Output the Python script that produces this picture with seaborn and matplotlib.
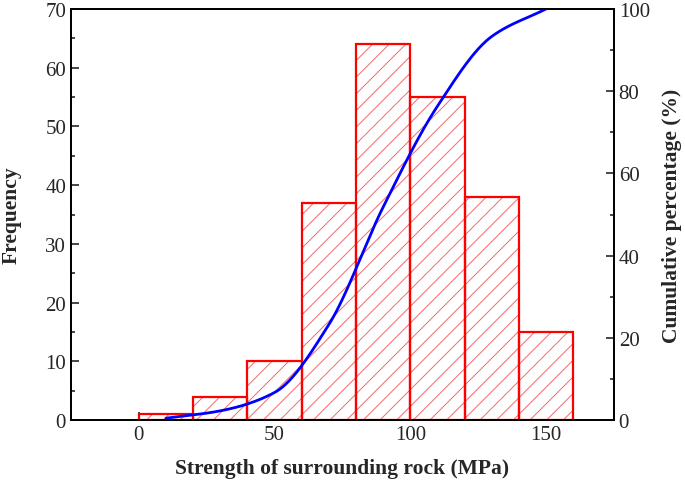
import numpy as np
import pandas as pd
import matplotlib
matplotlib.use("Agg")
import matplotlib.pyplot as plt
from matplotlib.ticker import MultipleLocator
import seaborn as sns

# Binned strength data (MPa)
bin_edges = [0, 20, 40, 60, 80, 100, 120, 140, 160]
bin_centers = [10, 30, 50, 70, 90, 110, 130, 150]
counts = [1, 4, 10, 37, 64, 55, 38, 15]

sns.set_style("ticks")
plt.rcParams['font.family'] = ['Liberation Serif', 'DejaVu Serif']
plt.rcParams['hatch.linewidth'] = 0.7
plt.rcParams['xtick.direction'] = 'in'
plt.rcParams['ytick.direction'] = 'in'

df = pd.DataFrame({"strength": bin_centers, "count": counts})
cum_pct = np.cumsum(counts) / np.sum(counts) * 100


def pchip(x, y, xs):
    # monotone cubic through the points, for a smooth rendering of the curve
    x = np.asarray(x, float)
    y = np.asarray(y, float)
    h = np.diff(x)
    d = np.diff(y) / h
    m = np.zeros_like(y)
    for k in range(1, len(x) - 1):
        if d[k - 1] * d[k] > 0:
            w1 = 2 * h[k] + h[k - 1]
            w2 = h[k] + 2 * h[k - 1]
            m[k] = (w1 + w2) / (w1 / d[k - 1] + w2 / d[k])
    m[0] = d[0]
    m[-1] = d[-1]
    idx = np.clip(np.searchsorted(x, xs) - 1, 0, len(h) - 1)
    t = (xs - x[idx]) / h[idx]
    h00 = 2 * t**3 - 3 * t**2 + 1
    h10 = t**3 - 2 * t**2 + t
    h01 = -2 * t**3 + 3 * t**2
    h11 = t**3 - t**2
    return (h00 * y[idx] + h10 * h[idx] * m[idx]
            + h01 * y[idx + 1] + h11 * h[idx] * m[idx + 1])


xs = np.linspace(bin_centers[0], bin_centers[-1], 300)
curve = pd.DataFrame({"x": xs, "y": pchip(bin_centers, cum_pct, xs)})

fig = plt.figure(figsize=(6.85, 4.89), dpi=100)
ax = fig.add_axes([0.1036, 0.139, 0.7925, 0.8406])

# hatch layer (lighter red lines)
sns.histplot(data=df, x="strength", weights="count", bins=bin_edges, ax=ax,
             stat="count", fill=True, linewidth=0)
for p in ax.patches:
    p.set_facecolor("white")
    p.set_edgecolor("#f26a6a")
    p.set_hatch("//")
    p.set_linewidth(0)
n_hatch = len(ax.patches)

# outline layer
sns.histplot(data=df, x="strength", weights="count", bins=bin_edges, ax=ax,
             stat="count", fill=False, linewidth=1.6)
for p in ax.patches[n_hatch:]:
    p.set_edgecolor("#ff0000")
    p.set_linewidth(1.6)

ax.set_xlim(-25, 175)
ax.set_ylim(0, 70)
ax.xaxis.set_major_locator(MultipleLocator(50))
ax.xaxis.set_minor_locator(MultipleLocator(25))
ax.yaxis.set_major_locator(MultipleLocator(10))
ax.yaxis.set_minor_locator(MultipleLocator(5))
ax.tick_params(axis="both", which="major", length=6, width=1.2, labelsize=15)
ax.tick_params(axis="both", which="minor", length=3, width=1.2)
ax.set_xlabel("Strength of surrounding rock (MPa)", fontsize=15.5,
              fontweight="bold", labelpad=10)
ax.set_ylabel("Frequency", fontsize=15.5, fontweight="bold", labelpad=17)

ax2 = ax.twinx()
sns.lineplot(data=curve, x="x", y="y", ax=ax2, color="#0000ff", linewidth=2)
ax2.set_ylim(0, 100)
ax2.yaxis.set_major_locator(MultipleLocator(20))
ax2.yaxis.set_minor_locator(MultipleLocator(10))
ax2.tick_params(axis="y", which="major", length=6, width=1.2, labelsize=15,
                direction="in")
ax2.tick_params(axis="y", which="minor", length=3, width=1.2, direction="in")
ax2.set_ylabel("Cumulative percentage (%)", fontsize=15.5, fontweight="bold",
               labelpad=9)

for a in (ax, ax2):
    for s in a.spines.values():
        s.set_linewidth(1.3)
        s.set_color("black")

fig.savefig("out.png", dpi=100)
